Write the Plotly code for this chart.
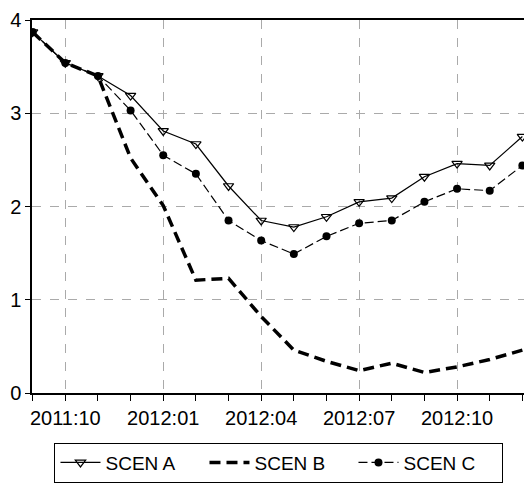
import plotly.graph_objects as go

months = ["2011:09", "2011:10", "2011:11", "2011:12", "2012:01", "2012:02", "2012:03",
          "2012:04", "2012:05", "2012:06", "2012:07", "2012:08", "2012:09", "2012:10",
          "2012:11", "2012:12"]
scen_a = [3.87, 3.54, 3.40, 3.19, 2.81, 2.67, 2.22, 1.85, 1.78, 1.89, 2.05, 2.09, 2.32, 2.46, 2.44, 2.75]
scen_b = [3.87, 3.54, 3.40, 2.52, 2.01, 1.21, 1.23, 0.82, 0.46, 0.34, 0.24, 0.32, 0.22, 0.28, 0.36, 0.46]
scen_c = [3.87, 3.54, 3.40, 3.03, 2.55, 2.35, 1.85, 1.635, 1.49, 1.68, 1.82, 1.85, 2.05, 2.19, 2.17, 2.44]
tick_labels = ["2011:10", "2012:01", "2012:04", "2012:07", "2012:10"]
y_ticks = [0, 1, 2, 3, 4]

x = list(range(len(months)))
tickvals = [months.index(t) for t in tick_labels]

fig = go.Figure()
fig.add_trace(go.Scatter(
    x=x, y=scen_a, name="SCEN A", mode="lines+markers",
    line=dict(color="black", width=1.2),
    marker=dict(symbol="triangle-down-open", size=9, color="black", line=dict(width=1.2)),
))
fig.add_trace(go.Scatter(
    x=x, y=scen_b, name="SCEN B", mode="lines",
    line=dict(color="black", width=3.5, dash="11px,6px"),
))
fig.add_trace(go.Scatter(
    x=x, y=scen_c, name="SCEN C", mode="lines+markers",
    line=dict(color="black", width=1.2, dash="9px,4px"),
    marker=dict(symbol="circle", size=8, color="black"),
))

tick_font = dict(family="Liberation Sans, Arial, sans-serif", size=20, color="black")
leg_font = dict(family="Liberation Sans, Arial, sans-serif", size=19, color="black")

fig.update_layout(
    width=524, height=483,
    margin=dict(l=32, r=0, t=20, b=90, autoexpand=False),
    paper_bgcolor="white", plot_bgcolor="white",
    font=tick_font,
    showlegend=True,
    legend=dict(
        orientation="h", x=0.502, xanchor="center", y=-0.133, yanchor="top",
        bordercolor="black", borderwidth=1, font=leg_font,
        itemwidth=40, tracegroupgap=0, entrywidth=94, entrywidthmode="pixels",
    ),
)
fig.update_xaxes(
    range=[-0.02, 15.05], automargin=False,
    tickmode="array", tickvals=tickvals, ticktext=tick_labels, tickfont=tick_font,
    ticks="outside", ticklen=6, tickwidth=1, tickcolor="black",
    showline=True, linecolor="black", linewidth=1.5, mirror=True,
    showgrid=True, gridcolor="#aaaaaa", griddash="dash", gridwidth=1,
    minor=dict(dtick=1, tick0=0, ticks="outside", ticklen=6, tickcolor="black", showgrid=False),
    zeroline=False,
)
fig.update_yaxes(
    range=[0, 4], automargin=False,
    tickmode="array", tickvals=y_ticks, tickfont=tick_font,
    ticks="outside", ticklen=5, tickwidth=1, tickcolor="black",
    showline=True, linecolor="black", linewidth=1.5, mirror=False,
    showgrid=True, gridcolor="#aaaaaa", griddash="dash", gridwidth=1,
    zeroline=False,
)

fig.write_html(
    "out.html",
    config={"displayModeBar": False},
    post_script="document.body.style.margin='0';document.body.style.padding='0';document.body.style.overflow='hidden';",
)
